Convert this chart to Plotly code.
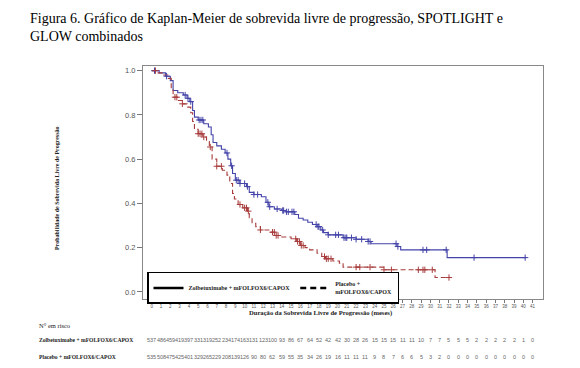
import numpy as np
import plotly.graph_objects as go

# ---------------- data ----------------
months = list(range(42))

zol_t = [0, 0.8, 1.5, 2.0, 2.3, 2.8, 3.4, 3.8, 4.1, 4.4, 4.6, 5.0, 5.6, 6.1, 6.4, 6.6, 7.0, 7.5, 7.9,
         8.2, 8.5, 8.7, 9.0, 9.5, 10.2, 10.5, 11.0, 11.8, 12.3, 12.6, 13.2, 14.0, 14.5, 15.4, 15.8,
         16.3, 16.8, 17.3, 17.8, 18.2, 18.5, 19.0, 20.6, 22.0, 23.3, 23.6, 26.4, 26.8, 31.8, 40.3]
zol_s = [1.0, 0.99, 0.975, 0.955, 0.91, 0.90, 0.89, 0.875, 0.86, 0.82, 0.79, 0.777, 0.76, 0.745,
         0.71, 0.675, 0.66, 0.645, 0.628, 0.60, 0.57, 0.535, 0.505, 0.49, 0.476, 0.45, 0.44, 0.43,
         0.405, 0.385, 0.375, 0.368, 0.362, 0.35, 0.333, 0.325, 0.315, 0.305, 0.295, 0.28, 0.268,
         0.258, 0.245, 0.238, 0.228, 0.218, 0.205, 0.19, 0.155, 0.155]

pla_t = [0, 0.5, 1.2, 1.8, 2.1, 2.3, 2.8, 3.3, 3.8, 4.2, 4.4, 4.6, 5.0, 5.5, 5.9, 6.2, 6.5, 7.0,
         7.6, 8.1, 8.4, 8.7, 8.9, 9.3, 9.8, 10.3, 10.5, 10.8, 11.2, 11.7, 12.6, 13.3, 14.0, 15.0,
         15.6, 16.0, 16.5, 17.0, 17.8, 18.3, 18.7, 19.5, 20.2, 20.6, 25.0, 30.5, 32.1]
pla_s = [1.0, 0.99, 0.98, 0.965, 0.92, 0.88, 0.865, 0.85, 0.835, 0.81, 0.77, 0.735, 0.715, 0.70,
         0.68, 0.655, 0.60, 0.568, 0.55, 0.528, 0.49, 0.445, 0.42, 0.395, 0.38, 0.365, 0.335, 0.31,
         0.295, 0.28, 0.27, 0.255, 0.248, 0.24, 0.228, 0.21, 0.20, 0.19, 0.175, 0.16, 0.15, 0.14,
         0.13, 0.112, 0.10, 0.065, 0.065]

zol_cens = [0.3, 1.6, 3.6, 3.9, 4.2, 5.1, 5.3, 5.5, 8.1, 8.6, 9.1, 9.3, 9.5, 10.0, 10.3, 11.0, 11.4,
            12.5, 12.7, 13.5, 14.1, 14.2, 14.5, 14.7, 15.1, 15.3, 17.7, 17.9, 18.0, 18.4, 19.0,
            19.8, 20.1, 20.7, 20.9, 21.0, 21.5, 22.0, 22.6, 23.3, 23.5, 26.3, 26.5, 29.2, 29.6,
            31.7, 34.7, 40.2]
pla_cens = [0.4, 2.5, 2.7, 3.3, 5.0, 5.2, 5.4, 5.6, 6.3, 7.0, 7.5, 9.5, 10.0, 10.2, 10.4, 11.7,
            13.0, 13.2, 13.4, 13.6, 15.5, 15.7, 15.9, 16.1, 16.3, 18.6, 18.8, 19.0, 19.3, 22.0,
            22.4, 23.5, 25.0, 25.8, 28.7, 29.2, 29.4, 30.2, 32.0]

zol_risk = [537, 486, 459, 419, 397, 331, 319, 252, 234, 174, 163, 131, 123, 100, 93, 86, 67, 64,
            52, 42, 42, 30, 28, 26, 15, 15, 15, 11, 11, 10, 7, 7, 5, 5, 5, 2, 2, 2, 2, 2, 1, 0]
pla_risk = [535, 508, 475, 425, 401, 329, 265, 229, 208, 139, 126, 90, 80, 62, 59, 55, 35, 34, 26,
            19, 16, 11, 11, 11, 9, 8, 7, 6, 6, 5, 3, 2, 0, 0, 0, 0, 0, 0, 0, 0, 0, 0]

arm_names = ["Zolbetuximabe + mFOLFOX6/CAPOX", "Placebo + mFOLFOX6/CAPOX"]
legend_names = ["<b>Zolbetuximabe + mFOLFOX6/CAPOX</b>", "<b>Placebo +<br>mFOLFOX6/CAPOX</b>"]
title_text = ("Figura 6. Gráfico de Kaplan-Meier de sobrevida livre de progressão, SPOTLIGHT e"
              "<br>GLOW combinados")
y_title = "Probabilidade de Sobrevida Livre de Progressão"
x_title = "Duração da Sobrevida Livre de Progressão (meses)"
risk_title = "N° em risco"

BLUE = "#4343a8"
RED = "#a83c3c"
SERIF = "Liberation Serif"
SANS = "Liberation Sans"


def step_y(ts, ss, ct):
    idx = np.searchsorted(np.array(ts), np.array(ct), side="right") - 1
    return np.array(ss)[idx]


fig = go.Figure()

# curves
fig.add_trace(go.Scatter(x=zol_t, y=zol_s, mode="lines", line=dict(color=BLUE, width=1.1, shape="hv"),
                         showlegend=False, hoverinfo="skip"))
fig.add_trace(go.Scatter(x=pla_t, y=pla_s, mode="lines",
                         line=dict(color=RED, width=1.1, shape="hv", dash="5px,3px"),
                         showlegend=False, hoverinfo="skip"))
# censor marks
fig.add_trace(go.Scatter(x=zol_cens, y=step_y(zol_t, zol_s, zol_cens), mode="markers",
                         marker=dict(symbol="cross-thin", size=4.5, line=dict(color=BLUE, width=1)),
                         showlegend=False, hoverinfo="skip"))
fig.add_trace(go.Scatter(x=pla_cens, y=step_y(pla_t, pla_s, pla_cens), mode="markers",
                         marker=dict(symbol="cross-thin", size=4.5, line=dict(color=RED, width=1)),
                         showlegend=False, hoverinfo="skip"))
# legend entries
fig.add_trace(go.Scatter(x=[None], y=[None], mode="lines", name=legend_names[0],
                         line=dict(color="black", width=2.5)))
fig.add_trace(go.Scatter(x=[None], y=[None], mode="lines", name=legend_names[1],
                         line=dict(color="black", width=2.5, dash="6px,4px")))

annotations = []
# risk table numbers
for row_y, vals in ((-0.176, zol_risk), (-0.249, pla_risk)):
    for m, v in zip(months, vals):
        annotations.append(dict(x=m, y=row_y, xref="x", yref="paper", text=str(v), showarrow=False,
                                xanchor="center", yanchor="middle",
                                font=dict(family=SANS, size=5.5, color="#666666")))
# risk labels
annotations.append(dict(x=-0.265, y=-0.1116, xref="paper", yref="paper", text=risk_title,
                        showarrow=False, xanchor="left", yanchor="middle",
                        font=dict(family=SERIF, size=6.5, color="#222222")))
for row_y, lab in ((-0.176, arm_names[0]), (-0.249, arm_names[1])):
    annotations.append(dict(x=-0.265, y=row_y, xref="paper", yref="paper", text="<b>" + lab + "</b>",
                            showarrow=False, xanchor="left", yanchor="middle",
                            font=dict(family=SERIF, size=5.6, color="#222222")))
# axis titles
annotations.append(dict(x=-0.215, y=0.476, xref="paper", yref="paper", text="<b>" + y_title + "</b>",
                        textangle=-90, showarrow=False, xanchor="center", yanchor="middle",
                        font=dict(family=SERIF, size=6, color="#222222")))
annotations.append(dict(x=0.4425, y=-0.060, xref="paper", yref="paper", text="<b>" + x_title + "</b>",
                        showarrow=False, xanchor="center", yanchor="middle",
                        font=dict(family=SERIF, size=6.6, color="#222222")))
# figure title
annotations.append(dict(x=-0.2875, y=1.2446, xref="paper", yref="paper", text=title_text,
                        showarrow=False, xanchor="left", yanchor="top", align="left",
                        font=dict(family=SERIF, size=14, color="black")))

# page body has an 8px margin, so the figure is drawn 8px smaller than the window
fig.update_layout(
    width=572, height=360,
    margin=dict(l=135, r=37, t=58, b=69),
    paper_bgcolor="white", plot_bgcolor="white",
    showlegend=True,
    legend=dict(orientation="h", x=0.01, y=0.116, xanchor="left", yanchor="top",
                bordercolor="black", borderwidth=1.5, bgcolor="white",
                font=dict(family=SERIF, size=6, color="#222222"),
                itemwidth=30, tracegroupgap=0),
    annotations=annotations,
)
fig.update_xaxes(range=[-0.94, 42.12], tickmode="array", tickvals=months,
                 ticktext=[str(m) for m in months], ticks="outside", ticklen=3, tickwidth=1,
                 tickcolor="#777777", tickfont=dict(family=SANS, size=4.5, color="#555555"),
                 showline=True, linecolor="#888888", linewidth=1, mirror=True,
                 showgrid=False, zeroline=False)
fig.update_yaxes(range=[-0.032, 1.021], tickmode="array", tickvals=[0, 0.2, 0.4, 0.6, 0.8, 1.0],
                 ticktext=["0.0", "0.2", "0.4", "0.6", "0.8", "1.0"], ticks="outside", ticklen=5,
                 tickwidth=1, tickcolor="#777777",
                 tickfont=dict(family=SANS, size=7.5, color="#555555"),
                 showline=True, linecolor="#888888", linewidth=1, mirror=True,
                 showgrid=False, zeroline=False)

fig.write_html("out.html")
